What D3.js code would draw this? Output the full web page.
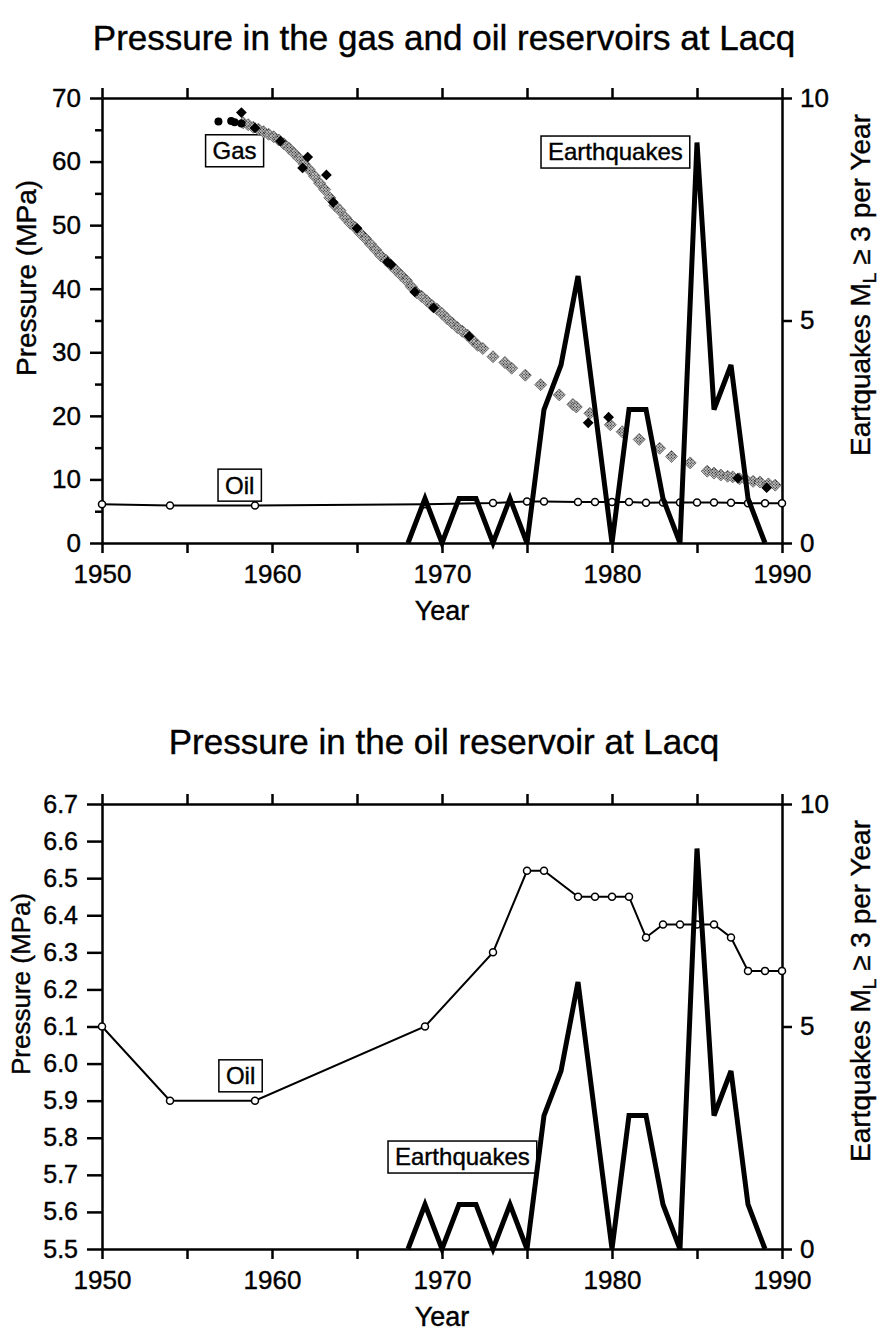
<!DOCTYPE html>
<meta charset="utf-8">
<style>
body { margin: 0; background: #fff; }
text { font-family: "Liberation Sans", Arial, sans-serif; fill: #000; stroke: #000; stroke-width: 0.4px; }
.axis path, .axis line { stroke: #000; stroke-width: 2.5px; fill: none; }
.axis text { font-size: 26px; }
.quake { fill: none; stroke: #000; stroke-width: 5px; stroke-linejoin: miter; }
.oil { fill: none; stroke: #000; stroke-width: 2px; }
</style>
<body>
<script src="https://d3js.org/d3.v7.min.js"></script>
<script>

// earthquakes ML >= 3 per year
var quakeYears = [1968, 1969, 1970, 1971, 1972, 1973, 1974, 1975, 1976, 1977, 1978, 1979,
                  1980, 1981, 1982, 1983, 1984, 1985, 1986, 1987, 1988, 1989];
var quakeCounts = [0, 1, 0, 1, 1, 0, 1, 0, 3, 4, 6, 3, 0, 3, 3, 1, 0, 9, 3, 4, 1, 0];

// oil reservoir pressure (MPa)
var oilYears = [1950, 1954, 1959, 1969, 1973, 1975, 1976, 1978, 1979, 1980, 1981, 1982,
                1983, 1984, 1985, 1986, 1987, 1988, 1989, 1990];
var oilPressure = [6.1, 5.9, 5.9, 6.1, 6.3, 6.52, 6.52, 6.45, 6.45, 6.45, 6.45, 6.34,
                   6.375, 6.375, 6.375, 6.375, 6.34, 6.25, 6.25, 6.25];

// gas reservoir pressure (MPa), grey diamonds
var gasGreyYears = [1958.3, 1958.6, 1958.9, 1959.2, 1959.5, 1959.8, 1960.1, 1960.4, 1960.7, 1961.0,
                    1961.3, 1961.6, 1961.9, 1962.2, 1962.5, 1962.8, 1963.1, 1963.4, 1963.7, 1964.0,
                    1964.3, 1964.6, 1964.9, 1965.2, 1965.5, 1965.8, 1966.1, 1966.4, 1966.7, 1967.0,
                    1967.3, 1967.6, 1967.9, 1968.2, 1968.5, 1968.8, 1969.1, 1969.4, 1969.7, 1970.0,
                    1970.3, 1970.6, 1970.9, 1971.2, 1971.5, 1971.8, 1972.1, 1972.4, 1973.0, 1973.7,
                    1974.1, 1974.9, 1975.8, 1976.9, 1977.7, 1977.9, 1978.7, 1979.9, 1980.6, 1981.6,
                    1982.8, 1983.5, 1984.6, 1985.6, 1986.0, 1986.4, 1986.8, 1987.1, 1987.5, 1987.9,
                    1988.3, 1988.7, 1989.2, 1989.6];
var gasGreyPressure = [66.1, 65.8, 65.4, 65.1, 64.7, 64.3, 63.9, 63.4, 62.8, 62.1,
                       61.3, 60.5, 59.6, 58.7, 57.7, 56.6, 55.6, 54.3, 53.1, 52.3,
                       51.2, 50.3, 49.6, 48.7, 47.9, 47.0, 46.1, 45.2, 44.5, 43.7,
                       42.9, 42.1, 41.3, 40.3, 39.4, 38.8, 38.1, 37.4, 36.8, 36.1,
                       35.3, 34.6, 33.9, 33.3, 32.7, 31.9, 31.1, 30.6, 29.3, 28.4,
                       27.5, 26.4, 24.9, 23.3, 21.8, 21.4, 20.4, 18.6, 17.5, 16.3,
                       14.9, 13.6, 12.6, 11.3, 11.0, 10.7, 10.5, 10.4, 10.1, 9.9,
                       9.7, 9.6, 9.3, 9.1];

// gas reservoir pressure (MPa), black diamonds and dots
var gasDiamondYears = [1958.2, 1959.0, 1960.5, 1961.8, 1962.1, 1963.2, 1963.6, 1965.0, 1966.8,
                       1967.0, 1968.4, 1969.5, 1971.6, 1978.6, 1979.8, 1987.4, 1989.1];
var gasDiamondPressure = [67.7, 65.3, 63.2, 59.0, 60.7, 57.9, 53.6, 49.5, 44.2,
                          43.8, 39.5, 37.0, 32.5, 18.9, 19.8, 10.2, 8.7];
var gasDotYears = [1956.85, 1957.6, 1957.8, 1958.2];
var gasDotPressure = [66.3, 66.4, 66.2, 66.0];

var yearTicks = [1950, 1960, 1970, 1980, 1990];

var svg = d3.select("body").append("svg")
    .attr("width", 880)
    .attr("height", 1332);

// halftone fill for the grey diamonds
var pat = svg.append("defs").append("pattern")
    .attr("id", "halftone")
    .attr("width", 2).attr("height", 2)
    .attr("patternUnits", "userSpaceOnUse");
pat.append("rect").attr("width", 2).attr("height", 2).attr("fill", "#bdbdbd");
pat.append("rect").attr("width", 1).attr("height", 1).attr("fill", "#111");

var x = d3.scaleLinear().domain([1950, 1990]).range([102, 782]);

function zip(xs, ys) {
  return xs.map(function(d, i) { return [d, ys[i]]; });
}

function labelBox(g, text, cx, cy) {
  var t = g.append("text")
      .attr("x", cx).attr("y", cy)
      .attr("dy", "0.35em")
      .attr("text-anchor", "middle")
      .style("font-size", "24px")
      .text(text);
  var b = t.node().getBBox();
  g.insert("rect", "text")
      .attr("x", b.x - 7).attr("y", cy - 16)
      .attr("width", b.width + 14).attr("height", 32)
      .attr("fill", "#fff")
      .attr("stroke", "#000")
      .attr("stroke-width", 1.5);
}

function drawPanel(opt) {
  var top = opt.top, bottom = opt.top + 445;
  var y = d3.scaleLinear().domain(opt.pDomain).range([bottom, top]);
  var yq = d3.scaleLinear().domain([0, 10]).range([bottom, top]);
  var g = svg.append("g");

  // title
  g.append("text")
      .attr("x", 444).attr("y", opt.titleY)
      .attr("text-anchor", "middle")
      .style("font-size", "35px")
      .text(opt.title);

  // minor ticks left
  if (opt.minorTicks.length) {
    g.append("g").attr("class", "axis")
        .attr("transform", "translate(102,0)")
        .call(d3.axisLeft(y).tickValues(opt.minorTicks).tickSize(7).tickFormat(""))
        .select(".domain").remove();
  }

  // left axis
  var la = g.append("g").attr("class", "axis")
      .attr("transform", "translate(102,0)")
      .call(d3.axisLeft(y).tickValues(opt.pTicks).tickSize(opt.tickLen).tickSizeOuter(0)
            .tickPadding(opt.tickPad).tickFormat(opt.pFormat));
  la.selectAll("text").style("font-size", opt.tickFont);

  // right axis
  g.append("g").attr("class", "axis")
      .attr("transform", "translate(782,0)")
      .call(d3.axisRight(yq).tickValues([0, 5, 10]).tickSize(10).tickSizeOuter(0).tickPadding(8));

  // top axis
  g.append("g").attr("class", "axis")
      .attr("transform", "translate(0," + top + ")")
      .call(d3.axisTop(x).tickValues(d3.range(1950, 1991, 5)).tickSize(10).tickSizeOuter(0).tickFormat(""));

  // bottom axis
  g.append("g").attr("class", "axis")
      .attr("transform", "translate(0," + bottom + ")")
      .call(d3.axisBottom(x).tickValues(d3.range(1950, 1991, 5)).tickSize(10).tickSizeOuter(0)
            .tickPadding(12)
            .tickFormat(function(d) { return yearTicks.indexOf(d) >= 0 ? d : ""; }));

  // axis titles
  g.append("text")
      .attr("x", 442).attr("y", bottom + 77)
      .attr("text-anchor", "middle")
      .style("font-size", "27px")
      .text("Year");

  g.append("text")
      .attr("transform", "translate(" + opt.labelX + "," + (top + 180) + ") rotate(-90)")
      .attr("text-anchor", "middle")
      .style("font-size", opt.labelFont)
      .text("Pressure (MPa)");

  var rt = g.append("text")
      .attr("transform", "translate(870," + (top + 187) + ") rotate(-90)")
      .attr("text-anchor", "middle")
      .style("font-size", "28px");
  rt.append("tspan").text("Eartquakes M");
  rt.append("tspan").attr("dy", 6).style("font-size", "19px").text("L");
  rt.append("tspan").attr("dy", -6).text(" \u2265 3 per Year");

  var marks = g.append("g");

  // gas
  if (opt.gas) {
    marks.selectAll(".gasg")
      .data(zip(gasGreyYears, gasGreyPressure))
      .enter().append("path")
        .attr("d", d3.symbol().type(d3.symbolSquare).size(72))
        .attr("transform", function(d) { return "translate(" + x(d[0]) + "," + y(d[1]) + ") rotate(45)"; })
        .attr("fill", "url(#halftone)")
        .attr("stroke", "#666")
        .attr("stroke-width", 0.8);
    marks.selectAll(".gasd")
      .data(zip(gasDiamondYears, gasDiamondPressure))
      .enter().append("path")
        .attr("d", d3.symbol().type(d3.symbolSquare).size(58))
        .attr("transform", function(d) { return "translate(" + x(d[0]) + "," + y(d[1]) + ") rotate(45)"; })
        .attr("fill", "#000");
    marks.selectAll(".gasc")
      .data(zip(gasDotYears, gasDotPressure))
      .enter().append("circle")
        .attr("cx", function(d) { return x(d[0]); })
        .attr("cy", function(d) { return y(d[1]); })
        .attr("r", 4)
        .attr("fill", "#000");
  }

  // oil
  var oilData = zip(oilYears, oilPressure);
  marks.append("path")
      .datum(oilData)
      .attr("class", "oil")
      .attr("d", d3.line().x(function(d) { return x(d[0]); }).y(function(d) { return y(d[1]); }));
  marks.selectAll(".oilpt")
    .data(oilData)
    .enter().append("circle")
      .attr("cx", function(d) { return x(d[0]); })
      .attr("cy", function(d) { return y(d[1]); })
      .attr("r", 3.5)
      .attr("fill", "#fff")
      .attr("stroke", "#000")
      .attr("stroke-width", 1.5);

  // earthquakes
  marks.append("path")
      .datum(zip(quakeYears, quakeCounts))
      .attr("class", "quake")
      .attr("d", d3.line().x(function(d) { return x(d[0]); }).y(function(d) { return yq(d[1]); }));

  // labels
  opt.labels.forEach(function(l) {
    labelBox(g, l.text, x(l.year), y(l.p));
  });
}

drawPanel({
  top: 98,
  titleY: 50,
  title: "Pressure in the gas and oil reservoirs at Lacq",
  pDomain: [0, 70],
  pTicks: d3.range(0, 71, 10),
  minorTicks: d3.range(5, 70, 10),
  tickLen: 12,
  tickPad: 9,
  tickFont: "26px",
  labelX: 36,
  labelFont: "28px",
  pFormat: d3.format("d"),
  gas: true,
  labels: [
    {text: "Gas", year: 1957.8, p: 61.7},
    {text: "Earthquakes", year: 1980.2, p: 61.5},
    {text: "Oil", year: 1958.1, p: 9.1}
  ]
});

drawPanel({
  top: 804,
  titleY: 754,
  title: "Pressure in the oil reservoir at Lacq",
  pDomain: [5.5, 6.7],
  pTicks: d3.range(0, 13).map(function(i) { return 5.5 + i * 0.1; }),
  minorTicks: [],
  tickLen: 15,
  tickPad: 9,
  tickFont: "25px",
  labelX: 30,
  labelFont: "26px",
  pFormat: d3.format(".1f"),
  gas: false,
  labels: [
    {text: "Oil", year: 1958.15, p: 5.967},
    {text: "Earthquakes", year: 1971.2, p: 5.748}
  ]
});

</script>
</body>
